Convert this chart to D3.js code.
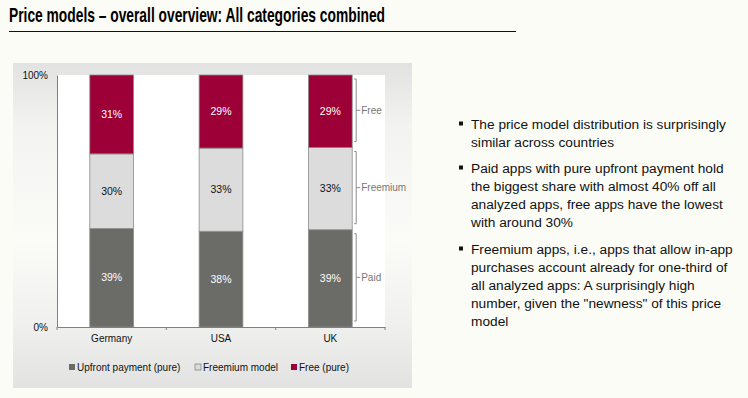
<!DOCTYPE html>
<html lang="en">
<head>
<meta charset="utf-8">
<script src="https://d3js.org/d3.v7.min.js"></script>
<style>
  body { margin: 0; background: #fcfcf7; }
  svg { display: block; }
</style>
</head>
<body>
<script>
// data (shares in %)
const countries = ["Germany", "USA", "UK"];
const models = ["Upfront payment (pure)", "Freemium model", "Free (pure)"];
const upfront = [39.1, 38.0, 38.6];
const freemium = [29.6, 33.0, 32.6];
const free = [31.3, 29.0, 28.8];
const bracketLabels = ["Paid", "Freemium", "Free"];
const yTicks = [0, 100];
const bullets = [
  ["The price model distribution is surprisingly", "similar across countries"],
  ["Paid apps with pure upfront payment hold", "the biggest share with almost 40% off all",
   "analyzed apps, free apps have the lowest", "with around 30%"],
  ["Freemium apps, i.e., apps that allow in-app", "purchases account already for one-third of",
   "all analyzed apps: A surprisingly high", "number, given the \"newness\" of this price", "model"]
];

const colors = ["#6b6b68", "#dcdcdc", "#9c0036"];
const labelColors = ["#ffffff", "#111111", "#ffffff"];
const font = "'Liberation Sans', Arial, sans-serif";

const W = 748, H = 398;
const svg = d3.select("body").append("svg").attr("width", W).attr("height", H);

// title
svg.append("text")
  .attr("x", 9).attr("y", 22)
  .attr("font-family", "'Liberation Sans Narrow', 'Arial Narrow', 'Liberation Sans', Arial, sans-serif")
  .attr("font-weight", "bold").attr("font-size", 21)
  .attr("textLength", 376).attr("lengthAdjust", "spacingAndGlyphs")
  .text("Price models \u2013 overall overview: All categories combined");
svg.append("line").attr("x1", 9).attr("x2", 516).attr("y1", 31.5).attr("y2", 31.5)
  .attr("stroke", "#111").attr("stroke-width", 1.2);

// chart panel background
const defs = svg.append("defs");
const grad = defs.append("linearGradient").attr("id", "panel").attr("x1", 0).attr("x2", 0).attr("y1", 0).attr("y2", 1);
grad.append("stop").attr("offset", "0").attr("stop-color", "#e2e2e2");
grad.append("stop").attr("offset", "0.2").attr("stop-color", "#f3f3f1");
grad.append("stop").attr("offset", "0.55").attr("stop-color", "#fbfbf8");
grad.append("stop").attr("offset", "0.8").attr("stop-color", "#f0f0ee");
grad.append("stop").attr("offset", "1").attr("stop-color", "#e2e2e2");
svg.append("rect").attr("x", 13).attr("y", 63).attr("width", 399).attr("height", 325).attr("fill", "url(#panel)");

const margin = { left: 57, top: 75, right: 385, bottom: 327 };
svg.append("rect").attr("x", margin.left).attr("y", margin.top)
  .attr("width", margin.right - margin.left).attr("height", margin.bottom - margin.top)
  .attr("fill", "#ffffff");

const x = d3.scaleBand().domain(countries).range([margin.left, margin.right])
  .paddingInner(0.6).paddingOuter(0.3);
const y = d3.scaleLinear().domain([0, 100]).range([margin.bottom, margin.top]);

const table = countries.map((c, i) => ({ country: c, 0: upfront[i], 1: freemium[i], 2: free[i] }));
const series = d3.stack().keys([0, 1, 2])(table);

const g = svg.append("g").attr("font-family", font);

series.forEach((s, k) => {
  g.append("g").selectAll("rect").data(s).join("rect")
    .attr("x", d => x(d.data.country))
    .attr("y", d => y(d[1]))
    .attr("width", x.bandwidth())
    .attr("height", d => y(d[0]) - y(d[1]))
    .attr("fill", colors[k])
    .attr("stroke", "#8c8c8c").attr("stroke-width", 0.8);
  g.append("g").selectAll("text").data(s).join("text")
    .attr("x", d => x(d.data.country) + x.bandwidth() / 2)
    .attr("y", d => (y(d[0]) + y(d[1])) / 2)
    .attr("dy", "0.35em")
    .attr("text-anchor", "middle").attr("font-size", 10.5)
    .attr("fill", labelColors[k])
    .text(d => Math.round(d[1] - d[0]) + "%");
});

// axes
const yAxis = g.append("g").attr("transform", `translate(${margin.left},0)`)
  .call(d3.axisLeft(y).tickValues(yTicks).tickSize(0).tickPadding(9).tickFormat(d => d + "%"));
yAxis.select(".domain").attr("stroke", "#808080");
yAxis.selectAll("text").attr("font-size", 10).attr("font-family", font).attr("fill", "#111");

const xAxis = g.append("g").attr("transform", `translate(0,${margin.bottom})`)
  .call(d3.axisBottom(x).tickSize(0).tickPadding(8));
xAxis.select(".domain").attr("stroke", "#808080");
xAxis.selectAll("text").attr("font-size", 10).attr("font-family", font).attr("fill", "#111");
// tick marks between categories
const bounds = countries.map(c => x(c) - (x.step() - x.bandwidth()) / 2).concat([margin.right]);
xAxis.selectAll(".sep").data(bounds).join("line").attr("class", "sep")
  .attr("x1", d => d).attr("x2", d => d).attr("y1", 0).attr("y2", 3).attr("stroke", "#808080");

// brackets next to the last bar
const last = countries.length - 1;
const bx = x(countries[last]) + x.bandwidth() + 4;
const br = g.append("g").attr("stroke", "#8c8c8c").attr("fill", "none");
series.forEach((s, k) => {
  const t = y(s[last][1]) + 4, b = y(s[last][0]) - 6, m = (t + b) / 2;
  br.append("path").attr("d", `M${bx - 2},${t}H${bx}V${b}H${bx - 2}M${bx},${m}H${bx + 4}`);
  g.append("text").attr("x", bx + 5).attr("y", m).attr("dy", "0.35em")
    .attr("font-size", 10).attr("fill", "#777").text(bracketLabels[k]);
});

// legend
const legendX = [69, 195, 291];
const lg = g.append("g").attr("transform", "translate(0,367)");
models.forEach((m, k) => {
  lg.append("rect").attr("x", legendX[k]).attr("y", -3).attr("width", 6).attr("height", 6)
    .attr("fill", colors[k]).attr("stroke", k === 1 ? "#888" : "none").attr("stroke-width", 0.8);
  lg.append("text").attr("x", legendX[k] + 8).attr("y", 0).attr("dy", "0.35em")
    .attr("font-size", 10).attr("fill", "#111").text(m);
});

// bullet text
const bulletTop = [124, 168, 249];
const tg = svg.append("g").attr("font-family", font).attr("font-size", 13.7).attr("fill", "#111");
bullets.forEach((lines, i) => {
  tg.append("rect").attr("x", 459).attr("y", bulletTop[i] - 2.5).attr("width", 4).attr("height", 4).attr("fill", "#111");
  lines.forEach((l, j) => {
    tg.append("text").attr("x", 471).attr("y", bulletTop[i] + j * 18).attr("dy", "0.35em").text(l);
  });
});
</script>
</body>
</html>
